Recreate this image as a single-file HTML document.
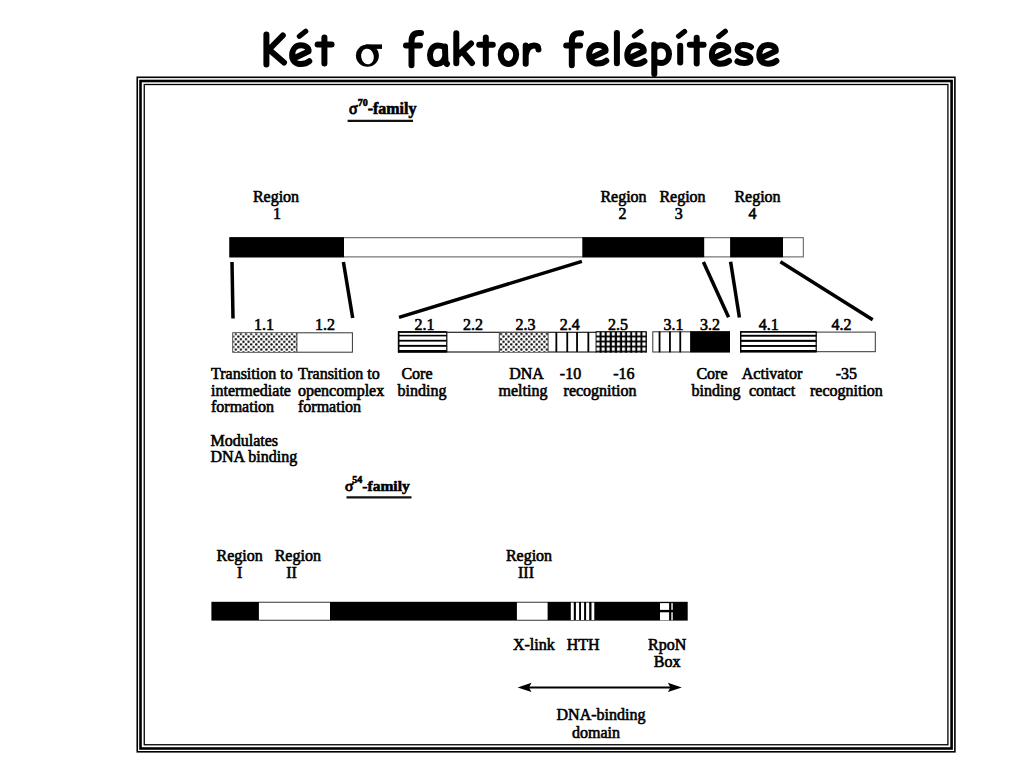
<!DOCTYPE html>
<html><head><meta charset="utf-8">
<style>
html,body{margin:0;padding:0;background:#fff;width:1024px;height:768px;overflow:hidden}
svg{display:block}
.t{font-family:"Liberation Serif",serif;font-size:16px;fill:#000;stroke:#000;stroke-width:0.6px;transform:translateY(1.2px)}
.c{text-anchor:middle}
.ti{font-family:"Liberation Sans",sans-serif;font-weight:bold;font-size:50px;fill:#000}
</style></head><body>
<svg width="1024" height="768" viewBox="0 0 1024 768">
<defs>
<pattern id="stip" width="5.1" height="5.2" patternUnits="userSpaceOnUse">
<rect width="5.1" height="5.2" fill="#fff"/>
<circle cx="1.2" cy="1.2" r="1.2" fill="#111"/>
<circle cx="3.75" cy="3.8" r="1.2" fill="#111"/>
</pattern>
<pattern id="grid" x="595.6" y="331.2" width="5.1" height="5.05" patternUnits="userSpaceOnUse">
<rect width="5.1" height="5.05" fill="#000"/>
<rect x="0.95" y="1.15" width="3.0" height="3.3" fill="#fff"/>
</pattern>
</defs>
<!-- title -->
<g fill="none" stroke="#000" stroke-width="6" stroke-linecap="round" stroke-linejoin="round">
<path d="M266.4,34.5 L266.4,64.4 M282.8,35.5 L268,50.5 M271.3,51.5 L284,62.5"/>
<path transform="translate(289.25,42.4)" d="M3.8,16.4 L19.3,9 C19.8,5 16,2.9 11.5,2.9 C6,2.9 2.9,7.5 2.9,13 C2.9,18.5 6.5,21.6 11.5,21.6 C15,21.6 18,20.5 20,18.8"/>
<path d="M299.4,36.3 L305.7,31.3" stroke-width="5.2"/>
<path d="M324.4,37.6 L324.4,63.6 M317.6,44.4 L331.6,44.4"/>

<path d="M411.5,65.2 L411.5,42 C411.5,36 414,33 418.5,33 L421,33 M406,45.5 L420,45.5"/>
<path d="M444.5,47.5 C442,45.5 440,45.5 438,45.5 C433,45.5 430,50 430,55 C430,60.5 432.5,64 437,64 C441,64 444,61 445,57 M445,46.5 L445.3,59 C445.5,62.5 446,63.5 447,64"/>
<path d="M456.3,33.3 L456.3,63.3 M471,43.5 L458,55 M462.5,51.5 L472,63"/>
<path d="M485.8,37.6 L485.8,63.7 M479.2,44.8 L492.8,44.8"/>
<ellipse cx="508.45" cy="54.6" rx="7.75" ry="9.35"/>
<path d="M525.7,45.5 L525.7,63.7 M525.7,55 C527,48 530,45.5 534,45.5 C537,45.5 538.5,47 538.5,49.5"/>
<path d="M571.8,65.2 L571.8,42 C571.8,36 574.5,33.3 579,33.3 L581,33.3 M566.2,45.5 L580.1,45.5"/>
<path transform="translate(586.25,42)" d="M3.8,16.4 L19.3,9 C19.8,5 16,2.9 11.5,2.9 C6,2.9 2.9,7.5 2.9,13 C2.9,18.5 6.5,21.6 11.5,21.6 C15,21.6 18,20.5 20,18.8"/>
<path d="M616.9,32.9 L616.9,63.2"/>
<path transform="translate(624.4,42.3)" d="M3.8,16.4 L19.3,9 C19.8,5 16,2.9 11.5,2.9 C6,2.9 2.9,7.5 2.9,13 C2.9,18.5 6.5,21.6 11.5,21.6 C15,21.6 18,20.5 20,18.8"/>
<path d="M634.4,36 L640.8,31.4" stroke-width="5.2"/>
<path d="M654.3,44.4 L654.3,74 M654.3,49 C656,46 658.5,45.2 661,45.2 C666,45.2 669,49.5 669,54 C669,59 666,63 661,63 C658.5,63 656,62 654.5,60.5"/>
<path d="M680.2,45.7 L680.2,62.5"/>
<path d="M678.6,36.2 L684.6,31.5" stroke-width="5.2"/>
<path d="M696.7,37.8 L696.7,63.4 M689.8,44.7 L703.6,44.7"/>
<path transform="translate(709,42.1)" d="M3.8,16.4 L19.3,9 C19.8,5 16,2.9 11.5,2.9 C6,2.9 2.9,7.5 2.9,13 C2.9,18.5 6.5,21.6 11.5,21.6 C15,21.6 18,20.5 20,18.8"/>
<path d="M718.8,36.6 L725.3,31.3" stroke-width="5.2"/>
<path d="M751,47 C748.5,45 745.5,45 743,45 C739.5,45 737.5,47 737.5,49.5 C737.5,52.5 741,53.5 744,54.5 C748,55.5 750.5,57 750.5,59.5 C750.5,62 748,63 744.5,63 C741.5,63 739,62.5 737.5,61.5"/>
<path transform="translate(756.4,42.1)" d="M3.8,16.4 L19.3,9 C19.8,5 16,2.9 11.5,2.9 C6,2.9 2.9,7.5 2.9,13 C2.9,18.5 6.5,21.6 11.5,21.6 C15,21.6 18,20.5 20,18.8"/>
</g>
<ellipse cx="367.4" cy="55.6" rx="11.5" ry="11.2" fill="#000"/>
<rect x="366" y="44.4" width="16" height="4.5" fill="#000"/>
<ellipse cx="367.5" cy="56.5" rx="6.3" ry="7.9" fill="#fff" transform="rotate(-12 367.5 56.5)"/>
<!-- frame -->
<rect x="137.25" y="77.3" width="817.65" height="674.5" fill="none" stroke="#000" stroke-width="1.6"/>
<rect x="140.5" y="81" width="811.1" height="667.5" fill="none" stroke="#000" stroke-width="2.6"/>
<rect x="144.25" y="84.5" width="803.65" height="660.25" fill="none" stroke="#000" stroke-width="1.3"/>

<!-- sigma70 heading -->
<text class="t" x="349" y="113.3" font-weight="bold"><tspan font-weight="normal" style="stroke-width:0.9px">σ</tspan><tspan font-size="10" dy="-8">70</tspan><tspan dy="8">-family</tspan></text>
<line x1="347.6" y1="120.9" x2="413" y2="120.9" stroke="#111" stroke-width="2.1"/>

<!-- region labels -->
<text class="t c" x="276" y="200.4">Region</text><text class="t c" x="277" y="217.5">1</text>
<text class="t c" x="623.5" y="200.4">Region</text><text class="t c" x="622.5" y="217.5">2</text>
<text class="t c" x="682.5" y="200.4">Region</text><text class="t c" x="678.7" y="217.5">3</text>
<text class="t c" x="757.5" y="200.4">Region</text><text class="t c" x="752.5" y="217.5">4</text>

<!-- top bar -->
<rect x="229.9" y="237.7" width="573.4" height="19.2" fill="#fff" stroke="#555" stroke-width="1"/>
<rect x="229.4" y="237.2" width="114.6" height="20.1" fill="#000"/>
<rect x="582.3" y="237.2" width="121.9" height="20.1" fill="#000"/>
<rect x="730.1" y="237.2" width="52.9" height="20.1" fill="#000"/>

<!-- connecting lines -->
<g stroke="#000" stroke-width="3.5">
<line x1="232" y1="262" x2="233" y2="318.5"/>
<line x1="343.4" y1="262" x2="352.7" y2="318"/>
<line x1="581.9" y1="261.4" x2="399" y2="317.3"/>
<line x1="703.4" y1="261.9" x2="728.6" y2="317.2"/>
<line x1="730.6" y1="261.7" x2="739.4" y2="317.4"/>
<line x1="780.4" y1="261.7" x2="872.7" y2="319.7"/>
</g>

<!-- sub labels -->
<text class="t c" x="264" y="329">1.1</text>
<text class="t c" x="325" y="329">1.2</text>
<text class="t c" x="424.4" y="328.5">2.1</text>
<text class="t c" x="473" y="328.5">2.2</text>
<text class="t c" x="525.4" y="328.5">2.3</text>
<text class="t c" x="569.7" y="328.5">2.4</text>
<text class="t c" x="618" y="328.5">2.5</text>
<text class="t c" x="673.5" y="328.5">3.1</text>
<text class="t c" x="710" y="328.5">3.2</text>
<text class="t c" x="768.7" y="328.5">4.1</text>
<text class="t c" x="841.4" y="328.5">4.2</text>

<!-- boxes -->
<g>
<rect x="232.8" y="332.8" width="119.6" height="19.4" fill="#fff" stroke="#333" stroke-width="1"/>
<rect x="233.3" y="333.3" width="63.6" height="18.4" fill="url(#stip)"/>
<line x1="296.9" y1="332.8" x2="296.9" y2="352.2" stroke="#333" stroke-width="1"/>

<rect x="398.7" y="332.3" width="247.5" height="19.7" fill="#fff" stroke="#222" stroke-width="1.2"/>
<g fill="#000">
<rect x="398.2" y="331.1" width="48.5" height="1.5"/>
<rect x="398.2" y="334.8" width="48.5" height="1.6"/>
<rect x="398.2" y="339.8" width="48.5" height="1.8"/>
<rect x="398.2" y="344.9" width="48.5" height="1.9"/>
<rect x="398.2" y="350" width="48.5" height="2.6"/>
<rect x="397.8" y="331.1" width="1.5" height="21.5"/>
<rect x="446.2" y="331.6" width="1.2" height="20.6"/>
</g>
<rect x="499.3" y="332.8" width="48.8" height="19" fill="url(#stip)"/>
<line x1="499.3" y1="332.3" x2="499.3" y2="352" stroke="#444" stroke-width="1"/>
<line x1="548.1" y1="332.3" x2="548.1" y2="352" stroke="#444" stroke-width="1"/>
<g fill="#000">
<rect x="555.45" y="332" width="1.8" height="20"/>
<rect x="566.35" y="332" width="1.8" height="20"/>
<rect x="576.15" y="332" width="1.8" height="20"/>
<rect x="587.45" y="332" width="1.8" height="20"/>
</g>
<rect x="595.6" y="331.2" width="51" height="21.4" fill="url(#grid)"/>

<rect x="652.8" y="331.8" width="76.7" height="20.2" fill="#fff" stroke="#333" stroke-width="1"/>
<g fill="#000">
<rect x="658.65" y="331.5" width="1.8" height="20.8"/>
<rect x="669.05" y="331.5" width="1.8" height="20.8"/>
<rect x="679.35" y="331.5" width="1.8" height="20.8"/>
<rect x="690.1" y="331.3" width="39.9" height="21"/>
</g>

<rect x="740.6" y="332.1" width="134.7" height="19.6" fill="#fff" stroke="#333" stroke-width="1"/>
<g fill="#000">
<rect x="740.1" y="331.1" width="76.3" height="1.5"/>
<rect x="740.1" y="334.8" width="76.3" height="1.9"/>
<rect x="740.1" y="339.8" width="76.3" height="2.1"/>
<rect x="740.1" y="345" width="76.3" height="1.9"/>
<rect x="740.1" y="350" width="76.3" height="2.5"/>
<rect x="740" y="331.1" width="1.4" height="21.4"/>
<rect x="815.6" y="331.6" width="1.2" height="20.6"/>
</g>
</g>

<!-- descriptions -->
<text class="t" x="211" y="378.3">Transition to</text>
<text class="t" x="211" y="394.5">intermediate</text>
<text class="t" x="211" y="410.5">formation</text>
<text class="t" x="298" y="378.3">Transition to</text>
<text class="t" x="298" y="394.5">opencomplex</text>
<text class="t" x="298" y="410.5">formation</text>
<text class="t c" x="417" y="378.3">Core</text>
<text class="t c" x="422" y="394.5">binding</text>
<text class="t c" x="526.5" y="378.3">DNA</text>
<text class="t c" x="523" y="394.5">melting</text>
<text class="t c" x="570.5" y="378.3">-10</text>
<text class="t c" x="623.8" y="378.3">-16</text>
<text class="t c" x="600" y="394.5">recognition</text>
<text class="t c" x="712" y="378.3">Core</text>
<text class="t c" x="716" y="394.5">binding</text>
<text class="t c" x="772" y="378.3">Activator</text>
<text class="t c" x="772" y="394.5">contact</text>
<text class="t c" x="846.4" y="378.3">-35</text>
<text class="t c" x="846.4" y="394.5">recognition</text>
<text class="t" x="210.5" y="444.6">Modulates</text>
<text class="t" x="210.5" y="461">DNA binding</text>

<!-- sigma54 heading -->
<text class="t" x="345" y="490.1" font-weight="bold" style="font-size:15.5px"><tspan font-weight="normal" style="stroke-width:0.9px">σ</tspan><tspan font-size="10" dy="-8" dx="-1">54</tspan><tspan dy="8">-family</tspan></text>
<line x1="346.5" y1="497.4" x2="411.5" y2="497.4" stroke="#111" stroke-width="2.1"/>

<text class="t c" x="239.7" y="559.8">Region</text><text class="t c" x="239.7" y="577">I</text>
<text class="t c" x="297.8" y="559.8">Region</text><text class="t c" x="291.5" y="577">II</text>
<text class="t c" x="529" y="559.8">Region</text><text class="t c" x="526" y="577">III</text>

<!-- sigma54 bar -->
<rect x="211.4" y="601.8" width="476.3" height="18.8" fill="#000"/>
<rect x="258.9" y="602.6" width="71.1" height="17.2" fill="#fff"/>
<rect x="516.9" y="602.6" width="30.7" height="17.2" fill="#fff"/>
<g fill="#fff">
<rect x="570.8" y="602.6" width="3" height="17.4"/>
<rect x="575.9" y="602.6" width="3.2" height="17.4"/>
<rect x="581" y="602.6" width="3.1" height="17.4"/>
<rect x="586.1" y="602.6" width="3.1" height="17.4"/>
<rect x="591.5" y="602.6" width="2.8" height="17.4"/>
</g>
<rect x="660" y="603.1" width="9.1" height="17.2" fill="#fff"/>
<rect x="671.1" y="603.1" width="1.9" height="17.2" fill="#bbb"/>
<rect x="660" y="609.9" width="13.2" height="2.4" fill="#000"/>

<text class="t c" x="533.8" y="649.2">X-link</text>
<text class="t c" x="583.2" y="649.2">HTH</text>
<text class="t c" x="667.2" y="649.2">RpoN</text>
<text class="t c" x="667.2" y="665.5">Box</text>

<!-- arrow -->
<line x1="528" y1="687.4" x2="671" y2="687.4" stroke="#000" stroke-width="2"/>
<path d="M517.6 687.4 L531.5 682.8 L529 687.4 L531.5 692 Z" fill="#000"/>
<path d="M681.8 687.4 L667.9 682.8 L670.4 687.4 L667.9 692 Z" fill="#000"/>

<text class="t c" x="601" y="719">DNA-binding</text>
<text class="t c" x="596" y="737.2">domain</text>
</svg>
</body></html>
